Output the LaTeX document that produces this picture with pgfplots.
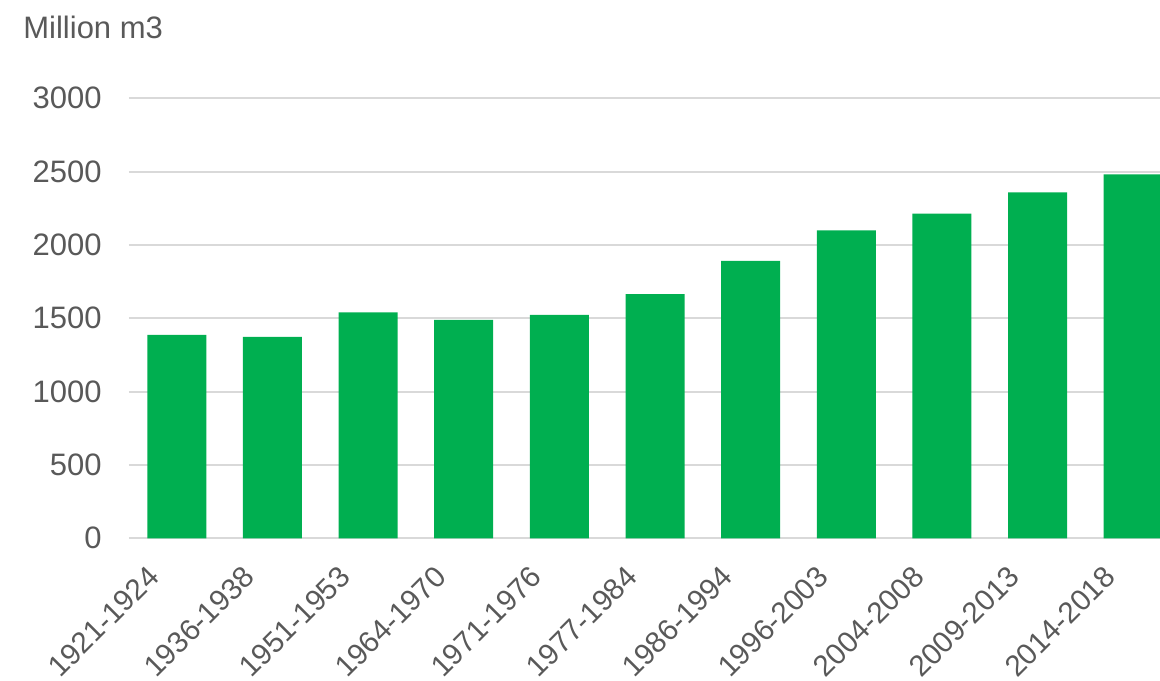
\documentclass[border=0pt]{standalone}
\usepackage{pgfplots}
\pgfplotsset{compat=1.18}
\usepackage{fontspec}
\setmainfont{Liberation Sans}
\definecolor{barg}{HTML}{00AF50}
\definecolor{txt}{HTML}{595959}
\definecolor{grd}{HTML}{D9D9D9}
\begin{document}
\begin{tikzpicture}
\begin{axis}[
  scale only axis,
  width=515.5pt, height=220pt,
  xmin=-0.5, xmax=10.28,
  ymin=0, ymax=3000,
  ytick={0,500,...,3000},
  xtick={0,...,10},
  xticklabels={1921-1924,1936-1938,1951-1953,1964-1970,1971-1976,1977-1984,1986-1994,1996-2003,2004-2008,2009-2013,2014-2018},
  ymajorgrids,
  grid style={grd, line width=0.9pt},
  axis line style={draw=none},
  major tick length=0pt,
  tick style={draw=none},
  clip=true,
  /pgf/number format/assume math mode=true,
  /pgf/number format/1000 sep={},
  tick label style={font=\fontsize{15.5}{18}\selectfont, text=txt},
  yticklabel style={inner sep=0pt, anchor=east, xshift=-13.5pt},
  xticklabel style={font=\fontsize{14.8}{18}\selectfont, inner sep=0pt, anchor=east, xshift=-11.5pt, yshift=-16.5pt, rotate=45},
  ybar, bar width=29.5pt,
]
\addplot[fill=barg, draw=none] coordinates {
(0,1387) (1,1373) (2,1541) (3,1489) (4,1523) (5,1664) (6,1892) (7,2099) (8,2213) (9,2359) (10,2482)
};
\end{axis}
\node[anchor=base west, inner sep=0pt, text=txt, font=\fontsize{15.5}{18}\selectfont] at (-53pt,249.65pt) {Million m3};
\pgfresetboundingbox
\useasboundingbox (-64.5pt,-70.85pt) rectangle (515.5pt,269.15pt);
\end{tikzpicture}
\end{document}
